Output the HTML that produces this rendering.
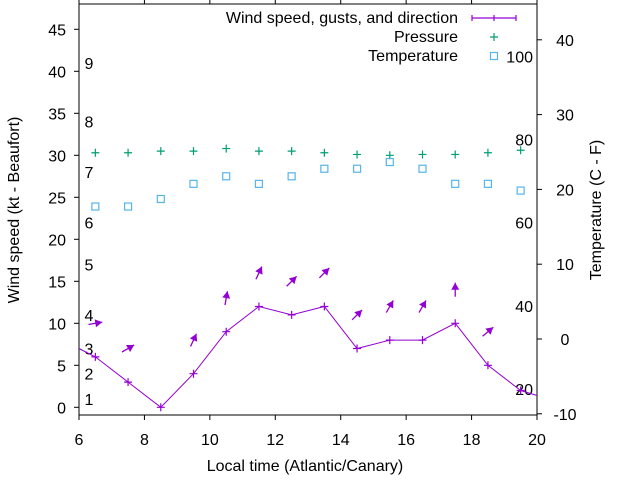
<!DOCTYPE html>
<html><head><meta charset="utf-8"><style>
body{margin:0;background:#fff}
svg{display:block;font-family:"Liberation Sans",sans-serif}
text{font-size:16px;fill:#000}
</style></head><body>
<svg id="chart" width="640" height="480" viewBox="0 0 640 480" xmlns="http://www.w3.org/2000/svg">
<g id="axes"></g><g id="marks"></g>
</svg>
<script>
const hours=[6.5,7.5,8.5,9.5,10.5,11.5,12.5,13.5,14.5,15.5,16.5,17.5,18.5,19.5];
const wind=[6,3,0,4,9,12,11,12,7,8,8,10,5,2];
const windEdgeStart=7.0, windEdgeEnd=1.4;
const dirAngles=[10,30,null,65,80,65,45,45,45,60,60,90,40,null];
const pressure=[30.3,30.3,30.5,30.5,30.8,30.5,30.5,30.3,30.1,30.0,30.1,30.1,30.3,30.6];
const temperature=[23.9,23.9,24.8,26.6,27.5,26.6,27.5,28.4,28.4,29.2,28.4,26.6,26.6,25.8];
const xTicks=[6,8,10,12,14,16,18,20];
const yTicks=[0,5,10,15,20,25,30,35,40,45];
const y2Ticks=[-10,0,10,20,30,40];
const beaufortLabels=["1","2","3","4","5","6","7","8","9"];
const beaufortKt=[1,4,7,11,17,22,28,34,41];
const fahrLabels=["100","80","60","40","20"];
const fahrVals=[100,80,60,40,20];

const L=79,R=537,T=4,B=415;
const X=v=>L+(v-6)*(R-L)/14;
const Y=v=>407.3-v*8.4;
const Y2=c=>339-c*7.48;
const NS="http://www.w3.org/2000/svg";
const axes=document.getElementById('axes'),marks=document.getElementById('marks');
function mk(p,tag,attrs,txt){const e=document.createElementNS(NS,tag);for(const k in attrs)e.setAttribute(k,attrs[k]);if(txt!==undefined)e.textContent=txt;p.appendChild(e);return e;}

let e=mk(axes,'rect',{x:L,y:T,width:R-L,height:B-T,fill:'none',stroke:'#000','stroke-width':1});


xTicks.forEach(v=>{
 mk(axes,'line',{x1:X(v),x2:X(v),y1:B,y2:B+5,stroke:'#000'});
 mk(axes,'line',{x1:X(v),x2:X(v),y1:T,y2:T-5,stroke:'#000'});
 const t=mk(axes,'text',{x:X(v),y:B+30,'text-anchor':'middle'},v);
 
 
});
yTicks.forEach(v=>{
 mk(axes,'line',{x1:L-5,x2:L,y1:Y(v),y2:Y(v),stroke:'#000'});
 const t=mk(axes,'text',{x:L-13,y:Y(v)+6,'text-anchor':'end'},v);
 
 
});
y2Ticks.forEach(v=>{
 mk(axes,'line',{x1:R,x2:R+5,y1:Y2(v),y2:Y2(v),stroke:'#000'});
 const t=mk(axes,'text',{x:R+28,y:Y2(v)+6,'text-anchor':'middle'},v);
 
 
});
beaufortLabels.forEach((s,i)=>{
 const t=mk(axes,'text',{x:89,y:Y(beaufortKt[i])+6,'text-anchor':'middle'},s);
 
 
});
fahrLabels.forEach((s,i)=>{
 const t=mk(axes,'text',{x:533,y:Y2((fahrVals[i]-32)*5/9)+6,'text-anchor':'end'},s);
 
 
});
e=mk(axes,'text',{x:305,y:471,'text-anchor':'middle'},'Local time (Atlantic/Canary)');


e=mk(axes,'text',{x:19,y:210,'text-anchor':'middle',transform:'rotate(-90 19 210)'},'Wind speed (kt - Beaufort)');


e=mk(axes,'text',{x:601,y:210,'text-anchor':'middle',transform:'rotate(-90 601 210)'},'Temperature (C - F)');



const P='#9400d3',G='#009e73',Bl='#56b4e9';
// wind line
let pts=[[X(6),Y(windEdgeStart)]].concat(hours.map((h,i)=>[X(h),Y(wind[i])])).concat([[X(20),Y(windEdgeEnd)]]);
e=mk(marks,'polyline',{points:pts.map(p=>p.join(',')).join(' '),fill:'none',stroke:P,'stroke-width':1});


function plus(x,y,c,n){const g=mk(marks,'path',{d:`M${x-4},${y}h8M${x},${y-4}v8`,stroke:c,'stroke-width':1.2,fill:'none'});}
hours.forEach((h,i)=>plus(X(h),Y(wind[i]),P,'wind-point'));
// direction arrows
hours.forEach((h,i)=>{
 const a=dirAngles[i]; if(a===null) return;
 const cx=X(h),cy=Y(wind[i]+4),len=14,r=a*Math.PI/180,dx=Math.cos(r),dy=-Math.sin(r);
 const x1=cx-dx*len/2,y1=cy-dy*len/2,x2=cx+dx*len/2,y2=cy+dy*len/2;
 const g=mk(marks,'g',{});
 
 
 mk(g,'line',{x1,y1,x2,y2,stroke:P,'stroke-width':1.3});
 const hx=x2-dx*7,hy=y2-dy*7,px=-dy*4,py=dx*4;
 mk(g,'polygon',{points:`${x2},${y2} ${hx+px},${hy+py} ${hx-px},${hy-py}`,fill:P});
});
hours.forEach((h,i)=>plus(X(h),Y(pressure[i]),G,'pressure-point'));
hours.forEach((h,i)=>{const r=mk(marks,'rect',{x:X(h)-3.5,y:Y(temperature[i])-3.5,width:7,height:7,fill:'none',stroke:Bl,'stroke-width':1.2});
 
 });
// legend
const lg=mk(marks,'g',{});


[['Wind speed, gusts, and direction',18],['Pressure',37],['Temperature',56]].forEach(([s,y])=>{
 const t=mk(lg,'text',{x:458,y:y+5,'text-anchor':'end','font-size':'15'},s);
 
 
});
mk(lg,'path',{d:'M472,18h44M472,15v6M494,15v6M516,15v6',stroke:P,'stroke-width':1.2});
mk(lg,'path',{d:'M490,37h8M494,33v8',stroke:G,'stroke-width':1.2});
mk(lg,'rect',{x:490.5,y:52.5,width:7,height:7,fill:'none',stroke:Bl,'stroke-width':1.2});
</script>
</body></html>
